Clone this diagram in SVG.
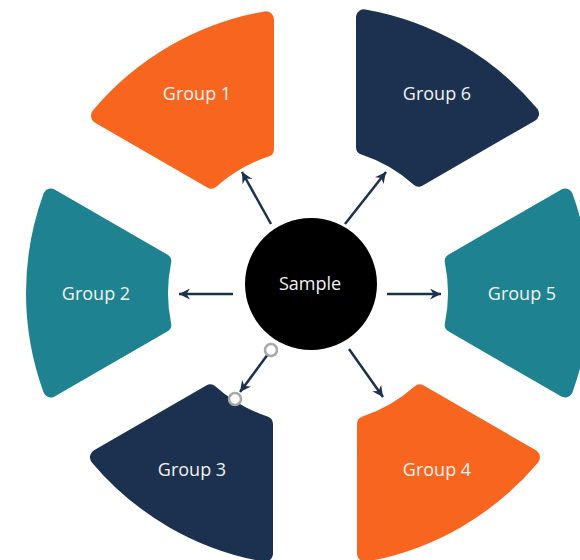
<svg xmlns="http://www.w3.org/2000/svg" width="580" height="560" viewBox="0 0 580 560">
<style>
.seg{stroke-width:16;stroke-linejoin:round}
.orange{fill:#F8651F;stroke:#F8651F}
.navy{fill:#1C3050;stroke:#1C3050}
.teal{fill:#1E8291;stroke:#1E8291}
.lbl{font-family:"Open Sans","Liberation Sans",sans-serif;font-size:18px;fill:#F2F2F2;text-anchor:middle}
.conn{stroke:#1C3050;stroke-width:2.5;fill:none;marker-end:url(#arr)}
.handle{fill:#FFFFFF;stroke:#A8A8A8;stroke-width:2.5}
</style>
<defs>
<path id="seg" d="M-96.42,-264.99 L-31.62,-152.76 A156,156 0 0 1 31.62,-152.76 L96.42,-264.99 A282,282 0 0 0 -96.42,-264.99 Z"/>
<marker id="arr" markerUnits="userSpaceOnUse" markerWidth="13" markerHeight="11" refX="11" refY="5.5" orient="auto" viewBox="0 0 13 11">
<path d="M0,0 L11,5.5 L0,11 L3.5,5.5 Z" fill="#1C3050"/>
</marker>
</defs>
<rect width="580" height="560" fill="#FFFFFF"/>
<g id="group1">
<use href="#seg" class="seg orange" transform="translate(315,297) rotate(-30)"/>
<text class="lbl" x="197" y="100">Group 1</text>
</g>
<g id="group6">
<use href="#seg" class="seg navy" transform="translate(315,295) rotate(30)"/>
<text class="lbl" x="437" y="100">Group 6</text>
</g>
<g id="group2">
<use href="#seg" class="seg teal" transform="translate(316,293) rotate(-90)"/>
<text class="lbl" x="96" y="300">Group 2</text>
</g>
<g id="group5">
<use href="#seg" class="seg teal" transform="translate(300,293) rotate(90)"/>
<text class="lbl" x="522" y="300">Group 5</text>
</g>
<g id="group3">
<use href="#seg" class="seg navy" transform="translate(314,276) rotate(210)"/>
<text class="lbl" x="192" y="476">Group 3</text>
</g>
<g id="group4">
<use href="#seg" class="seg orange" transform="translate(316,276) rotate(150)"/>
<text class="lbl" x="437" y="476">Group 4</text>
</g>
<g id="sample">
<circle cx="311" cy="284" r="66" fill="#000000"/>
<text class="lbl" x="310" y="290">Sample</text>
</g>
<g id="connectors">
<line class="conn" x1="271" y1="224" x2="242" y2="172"/>
<line class="conn" x1="345" y1="224" x2="386" y2="172"/>
<line class="conn" x1="233" y1="294" x2="179" y2="294"/>
<line class="conn" x1="387" y1="294" x2="441" y2="294"/>
<line class="conn" x1="349" y1="349" x2="383" y2="397"/>
<line class="conn" x1="271" y1="350" x2="240" y2="392"/>
<circle class="handle" cx="271" cy="350" r="6"/>
<circle class="handle" cx="235" cy="399" r="6"/>
</g>
</svg>
